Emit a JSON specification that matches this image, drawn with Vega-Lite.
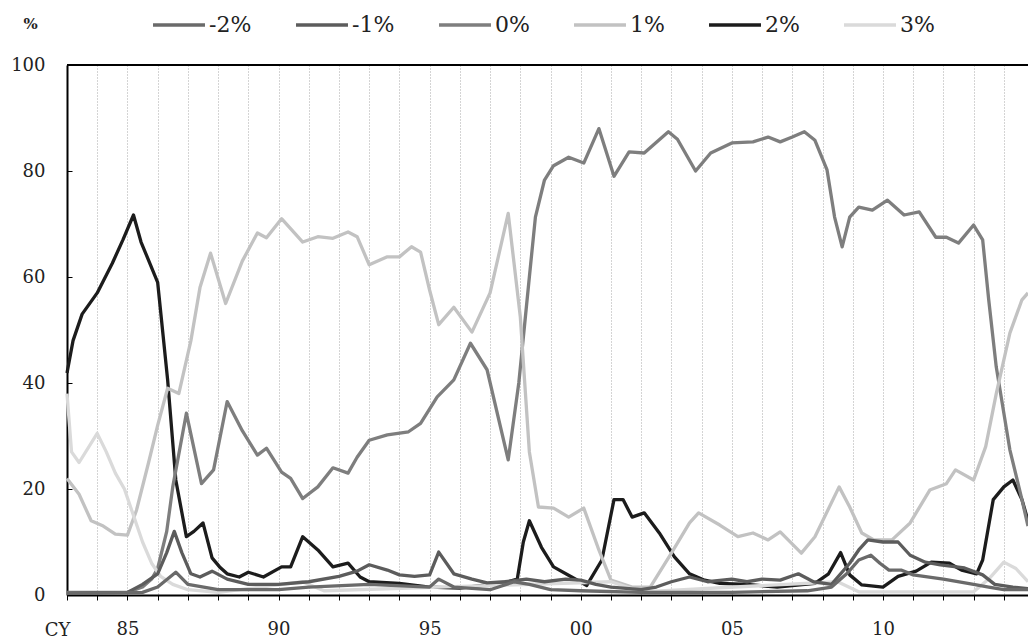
{
  "$schema": "https://vega.github.io/schema/vega-lite/v6.json",
  "width": 961,
  "height": 530,
  "autosize": {"type": "none"},
  "padding": {"left": 67, "top": 65, "right": 0, "bottom": 45},
  "background": "white",
  "config": {
    "view": {"stroke": null},
    "font": "DejaVu Serif",
    "axis": {"labelFont": "DejaVu Serif", "titleFont": "DejaVu Serif", "labelColor": "#222", "titleColor": "#222"}
  },
  "datasets": {
    "series": [
      {"s":"2%","t":1983.0,"v":41.9},{"s":"2%","t":1983.2,"v":48},{"s":"2%","t":1983.5,"v":53},{"s":"2%","t":1984.0,"v":57},{"s":"2%","t":1984.5,"v":62.6},{"s":"2%","t":1984.85,"v":67},{"s":"2%","t":1985.2,"v":71.7},{"s":"2%","t":1985.45,"v":66.6},{"s":"2%","t":1986.0,"v":59},{"s":"2%","t":1986.33,"v":40.6},{"s":"2%","t":1986.6,"v":21.7},{"s":"2%","t":1986.95,"v":11},{"s":"2%","t":1987.2,"v":12},{"s":"2%","t":1987.5,"v":13.6},{"s":"2%","t":1987.8,"v":7},{"s":"2%","t":1988.05,"v":5.3},{"s":"2%","t":1988.3,"v":4},{"s":"2%","t":1988.7,"v":3.4},{"s":"2%","t":1989.0,"v":4.3},{"s":"2%","t":1989.5,"v":3.4},{"s":"2%","t":1990.1,"v":5.3},{"s":"2%","t":1990.4,"v":5.3},{"s":"2%","t":1990.8,"v":11},{"s":"2%","t":1991.3,"v":8.5},{"s":"2%","t":1991.8,"v":5.3},{"s":"2%","t":1992.3,"v":6},{"s":"2%","t":1992.7,"v":3.4},{"s":"2%","t":1993.0,"v":2.5},{"s":"2%","t":1994.0,"v":2.2},{"s":"2%","t":1995.0,"v":1.5},{"s":"2%","t":1996.0,"v":1.3},{"s":"2%","t":1997.0,"v":2},{"s":"2%","t":1997.6,"v":2.5},{"s":"2%","t":1997.9,"v":3},{"s":"2%","t":1998.1,"v":10},{"s":"2%","t":1998.3,"v":14},{"s":"2%","t":1998.7,"v":9},{"s":"2%","t":1999.1,"v":5.3},{"s":"2%","t":1999.7,"v":3.4},{"s":"2%","t":2000.2,"v":1.8},{"s":"2%","t":2000.7,"v":6.6},{"s":"2%","t":2001.1,"v":18},{"s":"2%","t":2001.4,"v":18},{"s":"2%","t":2001.7,"v":14.7},{"s":"2%","t":2002.1,"v":15.5},{"s":"2%","t":2002.6,"v":11.7},{"s":"2%","t":2003.1,"v":7.2},{"s":"2%","t":2003.6,"v":4},{"s":"2%","t":2004.1,"v":2.8},{"s":"2%","t":2004.6,"v":2.2},{"s":"2%","t":2005.5,"v":2},{"s":"2%","t":2006.5,"v":1.5},{"s":"2%","t":2007.75,"v":2.2},{"s":"2%","t":2008.2,"v":4},{"s":"2%","t":2008.6,"v":8},{"s":"2%","t":2008.9,"v":3.8},{"s":"2%","t":2009.3,"v":1.9},{"s":"2%","t":2010.0,"v":1.5},{"s":"2%","t":2010.5,"v":3.5},{"s":"2%","t":2011.1,"v":4.5},{"s":"2%","t":2011.6,"v":6.2},{"s":"2%","t":2012.2,"v":6},{"s":"2%","t":2012.6,"v":4.7},{"s":"2%","t":2013.1,"v":4},{"s":"2%","t":2013.3,"v":6.6},{"s":"2%","t":2013.65,"v":18},{"s":"2%","t":2014.0,"v":20.4},{"s":"2%","t":2014.3,"v":21.7},{"s":"2%","t":2014.6,"v":18},{"s":"2%","t":2014.8,"v":14},

      {"s":"0%","t":1983.0,"v":0.5},{"s":"0%","t":1985.0,"v":0.5},{"s":"0%","t":1985.5,"v":1.5},{"s":"0%","t":1985.8,"v":3},{"s":"0%","t":1986.0,"v":5},{"s":"0%","t":1986.3,"v":12},{"s":"0%","t":1986.5,"v":20.4},{"s":"0%","t":1986.95,"v":34.3},{"s":"0%","t":1987.45,"v":21},{"s":"0%","t":1987.85,"v":23.6},{"s":"0%","t":1988.3,"v":36.5},{"s":"0%","t":1988.8,"v":31},{"s":"0%","t":1989.3,"v":26.4},{"s":"0%","t":1989.6,"v":27.7},{"s":"0%","t":1990.1,"v":23.2},{"s":"0%","t":1990.4,"v":22},{"s":"0%","t":1990.8,"v":18.2},{"s":"0%","t":1991.3,"v":20.4},{"s":"0%","t":1991.8,"v":24},{"s":"0%","t":1992.3,"v":23},{"s":"0%","t":1992.6,"v":26},{"s":"0%","t":1993.0,"v":29.2},{"s":"0%","t":1993.6,"v":30.2},{"s":"0%","t":1994.3,"v":30.8},{"s":"0%","t":1994.7,"v":32.4},{"s":"0%","t":1995.25,"v":37.4},{"s":"0%","t":1995.8,"v":40.6},{"s":"0%","t":1996.35,"v":47.5},{"s":"0%","t":1996.9,"v":42.5},{"s":"0%","t":1997.6,"v":25.5},{"s":"0%","t":1997.95,"v":40},{"s":"0%","t":1998.3,"v":60},{"s":"0%","t":1998.5,"v":71.3},{"s":"0%","t":1998.8,"v":78.3},{"s":"0%","t":1999.1,"v":81},{"s":"0%","t":1999.6,"v":82.6},{"s":"0%","t":2000.1,"v":81.5},{"s":"0%","t":2000.6,"v":88},{"s":"0%","t":2001.1,"v":79},{"s":"0%","t":2001.6,"v":83.6},{"s":"0%","t":2002.1,"v":83.4},{"s":"0%","t":2002.9,"v":87.4},{"s":"0%","t":2003.2,"v":86},{"s":"0%","t":2003.8,"v":80},{"s":"0%","t":2004.3,"v":83.4},{"s":"0%","t":2005.0,"v":85.3},{"s":"0%","t":2005.7,"v":85.5},{"s":"0%","t":2006.2,"v":86.4},{"s":"0%","t":2006.6,"v":85.5},{"s":"0%","t":2007.0,"v":86.4},{"s":"0%","t":2007.4,"v":87.4},{"s":"0%","t":2007.75,"v":85.8},{"s":"0%","t":2008.15,"v":80.2},{"s":"0%","t":2008.4,"v":71.3},{"s":"0%","t":2008.65,"v":65.7},{"s":"0%","t":2008.9,"v":71.3},{"s":"0%","t":2009.2,"v":73.2},{"s":"0%","t":2009.65,"v":72.6},{"s":"0%","t":2010.15,"v":74.5},{"s":"0%","t":2010.7,"v":71.7},{"s":"0%","t":2011.2,"v":72.3},{"s":"0%","t":2011.75,"v":67.5},{"s":"0%","t":2012.1,"v":67.5},{"s":"0%","t":2012.5,"v":66.4},{"s":"0%","t":2013.0,"v":69.8},{"s":"0%","t":2013.3,"v":67},{"s":"0%","t":2013.5,"v":55.7},{"s":"0%","t":2013.75,"v":43},{"s":"0%","t":2014.2,"v":27.4},{"s":"0%","t":2014.6,"v":18},{"s":"0%","t":2014.8,"v":13},

      {"s":"1%","t":1983.0,"v":22},{"s":"1%","t":1983.4,"v":19},{"s":"1%","t":1983.8,"v":14},{"s":"1%","t":1984.2,"v":13},{"s":"1%","t":1984.6,"v":11.5},{"s":"1%","t":1985.0,"v":11.3},{"s":"1%","t":1985.3,"v":16},{"s":"1%","t":1985.7,"v":25},{"s":"1%","t":1986.0,"v":32},{"s":"1%","t":1986.33,"v":39},{"s":"1%","t":1986.7,"v":38},{"s":"1%","t":1987.1,"v":48},{"s":"1%","t":1987.4,"v":58},{"s":"1%","t":1987.75,"v":64.5},{"s":"1%","t":1988.25,"v":55},{"s":"1%","t":1988.8,"v":63},{"s":"1%","t":1989.3,"v":68.3},{"s":"1%","t":1989.6,"v":67.4},{"s":"1%","t":1990.1,"v":71},{"s":"1%","t":1990.8,"v":66.6},{"s":"1%","t":1991.3,"v":67.6},{"s":"1%","t":1991.8,"v":67.3},{"s":"1%","t":1992.3,"v":68.5},{"s":"1%","t":1992.6,"v":67.6},{"s":"1%","t":1993.0,"v":62.3},{"s":"1%","t":1993.6,"v":63.8},{"s":"1%","t":1994.0,"v":63.8},{"s":"1%","t":1994.4,"v":65.7},{"s":"1%","t":1994.7,"v":64.7},{"s":"1%","t":1995.0,"v":57.5},{"s":"1%","t":1995.3,"v":51},{"s":"1%","t":1995.8,"v":54.3},{"s":"1%","t":1996.4,"v":49.6},{"s":"1%","t":1997.0,"v":57},{"s":"1%","t":1997.6,"v":72},{"s":"1%","t":1998.0,"v":52.5},{"s":"1%","t":1998.3,"v":27},{"s":"1%","t":1998.6,"v":16.6},{"s":"1%","t":1999.1,"v":16.4},{"s":"1%","t":1999.6,"v":14.7},{"s":"1%","t":2000.1,"v":16.4},{"s":"1%","t":2000.6,"v":8.5},{"s":"1%","t":2001.0,"v":2.8},{"s":"1%","t":2001.7,"v":1.5},{"s":"1%","t":2002.3,"v":1.5},{"s":"1%","t":2003.0,"v":7.9},{"s":"1%","t":2003.6,"v":13.6},{"s":"1%","t":2003.9,"v":15.5},{"s":"1%","t":2004.6,"v":13.2},{"s":"1%","t":2005.2,"v":11},{"s":"1%","t":2005.7,"v":11.7},{"s":"1%","t":2006.2,"v":10.4},{"s":"1%","t":2006.6,"v":11.9},{"s":"1%","t":2007.3,"v":7.9},{"s":"1%","t":2007.75,"v":11},{"s":"1%","t":2008.55,"v":20.4},{"s":"1%","t":2008.9,"v":16.6},{"s":"1%","t":2009.3,"v":11.7},{"s":"1%","t":2009.7,"v":10.4},{"s":"1%","t":2010.3,"v":10.4},{"s":"1%","t":2010.9,"v":13.6},{"s":"1%","t":2011.55,"v":19.8},{"s":"1%","t":2012.1,"v":21},{"s":"1%","t":2012.4,"v":23.6},{"s":"1%","t":2013.0,"v":21.7},{"s":"1%","t":2013.4,"v":28},{"s":"1%","t":2013.75,"v":38},{"s":"1%","t":2014.2,"v":49.4},{"s":"1%","t":2014.6,"v":55.7},{"s":"1%","t":2014.8,"v":57},

      {"s":"3%","t":1983.0,"v":38},{"s":"3%","t":1983.15,"v":27},{"s":"3%","t":1983.4,"v":25},{"s":"3%","t":1984.0,"v":30.5},{"s":"3%","t":1984.3,"v":27},{"s":"3%","t":1984.6,"v":23},{"s":"3%","t":1984.9,"v":20},{"s":"3%","t":1985.2,"v":15},{"s":"3%","t":1985.5,"v":10},{"s":"3%","t":1985.8,"v":6},{"s":"3%","t":1986.1,"v":3.5},{"s":"3%","t":1986.5,"v":2},{"s":"3%","t":1987.0,"v":1},{"s":"3%","t":1988.0,"v":0.5},{"s":"3%","t":1990.8,"v":2.5},{"s":"3%","t":1991.5,"v":0.8},{"s":"3%","t":2001.0,"v":2.5},{"s":"3%","t":2002.0,"v":0.6},{"s":"3%","t":2008.5,"v":2.5},{"s":"3%","t":2009.2,"v":0.6},{"s":"3%","t":2013.0,"v":0.6},{"s":"3%","t":2013.5,"v":3},{"s":"3%","t":2014.0,"v":6.2},{"s":"3%","t":2014.4,"v":5},{"s":"3%","t":2014.8,"v":2.5},

      {"s":"-1%","t":1983.0,"v":0.3},{"s":"-1%","t":1985.0,"v":0.5},{"s":"-1%","t":1985.5,"v":2},{"s":"-1%","t":1986.0,"v":4},{"s":"-1%","t":1986.3,"v":8},{"s":"-1%","t":1986.55,"v":12},{"s":"-1%","t":1986.8,"v":8},{"s":"-1%","t":1987.1,"v":4},{"s":"-1%","t":1987.4,"v":3.4},{"s":"-1%","t":1987.8,"v":4.5},{"s":"-1%","t":1988.3,"v":3},{"s":"-1%","t":1989.0,"v":2},{"s":"-1%","t":1990.0,"v":2},{"s":"-1%","t":1991.0,"v":2.5},{"s":"-1%","t":1992.0,"v":3.5},{"s":"-1%","t":1992.6,"v":4.5},{"s":"-1%","t":1993.0,"v":5.7},{"s":"-1%","t":1993.6,"v":4.7},{"s":"-1%","t":1994.0,"v":3.8},{"s":"-1%","t":1994.5,"v":3.5},{"s":"-1%","t":1995.0,"v":3.8},{"s":"-1%","t":1995.3,"v":8.1},{"s":"-1%","t":1995.8,"v":4},{"s":"-1%","t":1996.4,"v":3},{"s":"-1%","t":1996.9,"v":2.3},{"s":"-1%","t":1997.5,"v":2.5},{"s":"-1%","t":1998.2,"v":3},{"s":"-1%","t":1998.8,"v":2.5},{"s":"-1%","t":1999.5,"v":3},{"s":"-1%","t":2000.0,"v":2.8},{"s":"-1%","t":2000.5,"v":2},{"s":"-1%","t":2001.0,"v":1.5},{"s":"-1%","t":2002.0,"v":1},{"s":"-1%","t":2002.5,"v":1.5},{"s":"-1%","t":2003.0,"v":2.5},{"s":"-1%","t":2003.6,"v":3.4},{"s":"-1%","t":2004.2,"v":2.5},{"s":"-1%","t":2005.0,"v":3},{"s":"-1%","t":2005.5,"v":2.5},{"s":"-1%","t":2006.0,"v":3},{"s":"-1%","t":2006.6,"v":2.8},{"s":"-1%","t":2007.2,"v":4},{"s":"-1%","t":2007.7,"v":2.5},{"s":"-1%","t":2008.3,"v":2},{"s":"-1%","t":2008.9,"v":6},{"s":"-1%","t":2009.2,"v":8.5},{"s":"-1%","t":2009.5,"v":10.4},{"s":"-1%","t":2010.0,"v":10},{"s":"-1%","t":2010.5,"v":10},{"s":"-1%","t":2010.9,"v":7.5},{"s":"-1%","t":2011.4,"v":6.2},{"s":"-1%","t":2011.9,"v":5.7},{"s":"-1%","t":2012.7,"v":5.1},{"s":"-1%","t":2013.3,"v":3.8},{"s":"-1%","t":2013.7,"v":2},{"s":"-1%","t":2014.3,"v":1.5},{"s":"-1%","t":2014.8,"v":1.2},

      {"s":"-2%","t":1983.0,"v":0.3},{"s":"-2%","t":1985.5,"v":0.5},{"s":"-2%","t":1986.0,"v":1.5},{"s":"-2%","t":1986.6,"v":4.3},{"s":"-2%","t":1987.0,"v":2},{"s":"-2%","t":1988.0,"v":1},{"s":"-2%","t":1990.0,"v":1},{"s":"-2%","t":1991.0,"v":1.5},{"s":"-2%","t":1993.0,"v":2},{"s":"-2%","t":1995.0,"v":1.5},{"s":"-2%","t":1995.3,"v":3},{"s":"-2%","t":1995.8,"v":1.5},{"s":"-2%","t":1997.0,"v":1},{"s":"-2%","t":1997.8,"v":2.5},{"s":"-2%","t":1998.3,"v":2},{"s":"-2%","t":1999.0,"v":1},{"s":"-2%","t":2000.0,"v":0.8},{"s":"-2%","t":2002.0,"v":0.5},{"s":"-2%","t":2005.0,"v":0.5},{"s":"-2%","t":2007.5,"v":0.8},{"s":"-2%","t":2008.3,"v":1.5},{"s":"-2%","t":2008.8,"v":4},{"s":"-2%","t":2009.2,"v":6.6},{"s":"-2%","t":2009.6,"v":7.5},{"s":"-2%","t":2009.9,"v":6},{"s":"-2%","t":2010.2,"v":4.7},{"s":"-2%","t":2010.6,"v":4.7},{"s":"-2%","t":2011.0,"v":3.8},{"s":"-2%","t":2012.0,"v":3},{"s":"-2%","t":2013.0,"v":2},{"s":"-2%","t":2013.5,"v":1.5},{"s":"-2%","t":2014.0,"v":1},{"s":"-2%","t":2014.8,"v":1}
    ]
  },
  "layer": [
    {
      "data": {"name": "series"},
      "mark": {"type": "line", "strokeWidth": 3.3, "strokeJoin": "round"},
      "encoding": {
        "x": {
          "field": "t", "type": "quantitative",
          "scale": {"domain": [1983, 2014.8], "nice": false, "zero": false},
          "axis": {
            "values": [1983,1984,1985,1986,1987,1988,1989,1990,1991,1992,1993,1994,1995,1996,1997,1998,1999,2000,2001,2002,2003,2004,2005,2006,2007,2008,2009,2010,2011,2012,2013,2014],
            "labelExpr": "datum.value % 5 == 0 ? substring(toString(datum.value), 2, 4) : ''",
            "labelFontSize": 18, "labelPadding": 20, "labelFlush": false, "labelOverlap": false,
            "tickSize": 5, "tickColor": "#000", "tickWidth": 1,
            "domainColor": "#000", "domainWidth": 2,
            "grid": true, "gridColor": "#a8a8a8", "gridDash": [1, 2], "gridWidth": 1,
            "title": "CY", "titleFontSize": 18, "titleFontWeight": "normal",
            "titleX": -10, "titleY": 35, "titleAlign": "center", "titleBaseline": "middle"
          }
        },
        "y": {
          "field": "v", "type": "quantitative",
          "scale": {"domain": [0, 100], "nice": false},
          "axis": {
            "values": [0, 20, 40, 60, 80, 100],
            "labelFontSize": 18, "labelPadding": 27,
            "tickSize": -5, "tickColor": "#000",
            "domainColor": "#000", "domainWidth": 2,
            "grid": false,
            "title": "%", "titleAngle": 0, "titleFontSize": 15, "titleFontWeight": "bold",
            "titleX": -37, "titleY": -42, "titleAlign": "center", "titleBaseline": "middle"
          }
        },
        "color": {
          "field": "s", "type": "nominal",
          "scale": {
            "domain": ["-2%", "-1%", "0%", "1%", "2%", "3%"],
            "range": ["#6a6a6a", "#5c5c5c", "#7e7e7e", "#c2c2c2", "#1c1c1c", "#dadada"]
          },
          "legend": {
            "orient": "none", "legendX": 84, "legendY": -68,
            "direction": "horizontal", "columns": 6, "title": null,
            "symbolType": "stroke", "symbolSize": 2700, "symbolStrokeWidth": 3.3,
            "labelFontSize": 22, "labelFont": "DejaVu Serif", "labelColor": "#222",
            "labelOffset": 2, "columnPadding": 37
          }
        }
      }
    },
    {
      "data": {"values": [{}]},
      "mark": {"type": "rule", "color": "#000", "strokeWidth": 2},
      "encoding": {"y": {"datum": 100}}
    }
  ]
}
